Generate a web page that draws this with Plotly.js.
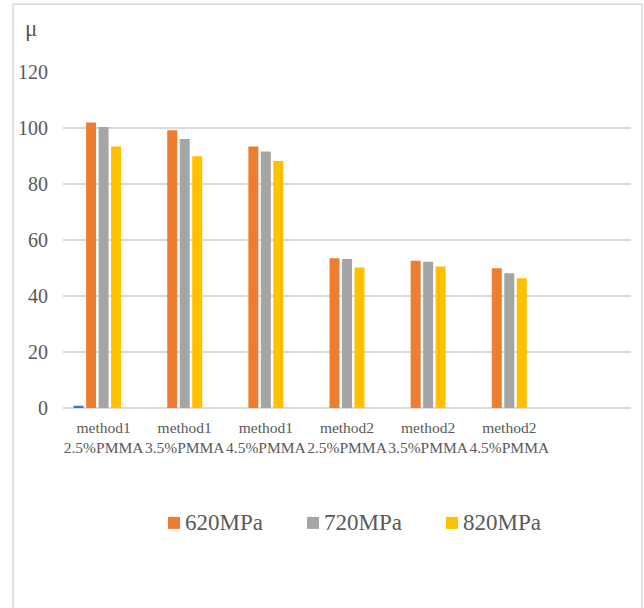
<!DOCTYPE html>
<html>
<head>
<meta charset="utf-8">
<script src="https://cdn.plot.ly/plotly-3.0.1.min.js"></script>
<style>
html,body{margin:0;padding:0;background:#fff;}
#chart{width:644px;height:608px;}
</style>
</head>
<body>
<div id="chart"></div>
<script>
var categories = ["method1<br>2.5%PMMA","method1<br>3.5%PMMA","method1<br>4.5%PMMA","method2<br>2.5%PMMA","method2<br>3.5%PMMA","method2<br>4.5%PMMA"];
var seriesBlue = [0.8, null, null, null, null, null];
var s620 = [102.0, 99.2, 93.4, 53.5, 52.6, 49.9];
var s720 = [100.4, 96.1, 91.6, 53.2, 52.2, 48.1];
var s820 = [93.4, 89.9, 88.2, 50.2, 50.5, 46.3];
var seriesExtra = [0, 0, 0, 0, 0, 0];
var yTicks = [0, 20, 40, 60, 80, 100, 120];
var legendNames = ["620MPa", "720MPa", "820MPa"];
var legendColors = ["#ED7D31", "#A5A5A5", "#FFC000"];

var serif = "Liberation Serif";
var txt = "#595959";

var traces = [
  {type:'bar', x:categories, y:seriesBlue, name:'s1', marker:{color:'#4472C4'}, showlegend:false},
  {type:'bar', x:categories, y:s620, name:legendNames[0], marker:{color:legendColors[0]}, showlegend:false},
  {type:'bar', x:categories, y:s720, name:legendNames[1], marker:{color:legendColors[1]}, showlegend:false},
  {type:'bar', x:categories, y:s820, name:legendNames[2], marker:{color:legendColors[2]}, showlegend:false},
  {type:'bar', x:categories, y:seriesExtra, name:'s5', marker:{color:'#5B9BD5'}, showlegend:false}
];

// plot area geometry (px) used to place legend items in paper coords
var L = 63, W = 568, B = 408, H = 336.3;
function px(x){ return (x - L) / W; }
function py(y){ return (B - y) / H; }

var shapes = [
  {type:'rect', xref:'paper', yref:'paper', x0:px(13), x1:px(642), y0:py(612), y1:py(4),
   line:{color:'#d9d9d9', width:1.5}, fillcolor:'rgba(0,0,0,0)', layer:'below'}
];
var annotations = [
  {text:'μ', xref:'paper', yref:'paper', x:px(31), y:py(28), showarrow:false,
   font:{family:serif, size:23, color:txt}, xanchor:'center', yanchor:'middle'}
];
var legendStart = 168, legendStep = 139;
legendNames.forEach(function(n, i){
  var sx = legendStart + i * legendStep;
  shapes.push({type:'rect', xref:'paper', yref:'paper', x0:px(sx), x1:px(sx + 12), y0:py(529), y1:py(517),
               line:{width:0}, fillcolor:legendColors[i]});
  annotations.push({text:n, xref:'paper', yref:'paper', x:px(sx + 15), y:py(523), showarrow:false,
                    xanchor:'left', yanchor:'middle', font:{family:serif, size:23, color:txt}});
});

var layout = {
  width:644, height:608,
  margin:{l:L, r:13, t:72, b:200, pad:0},
  paper_bgcolor:'#fff', plot_bgcolor:'#fff',
  barmode:'group', bargap:0.23, bargroupgap:0.2,
  font:{family:serif, color:txt},
  showlegend:false,
  xaxis:{type:'category', range:[-0.5, 6.5], showgrid:false, zeroline:false, showline:false,
         ticks:'', tickfont:{family:serif, size:15.5, color:txt}, ticklabelstandoff:8, tickangle:0, fixedrange:true},
  yaxis:{range:[0,120], tickvals:yTicks, ticktext:yTicks.map(String), showgrid:true, gridcolor:'#d9d9d9', gridwidth:1.2,
         zeroline:true, zerolinecolor:'#d9d9d9', zerolinewidth:1.2, showline:false, ticks:'',
         tickfont:{family:serif, size:20, color:txt}, ticklabelstandoff:14, fixedrange:true},
  annotations:annotations,
  shapes:shapes
};

Plotly.newPlot('chart', traces, layout, {displayModeBar:false, staticPlot:true});
</script>
</body>
</html>
